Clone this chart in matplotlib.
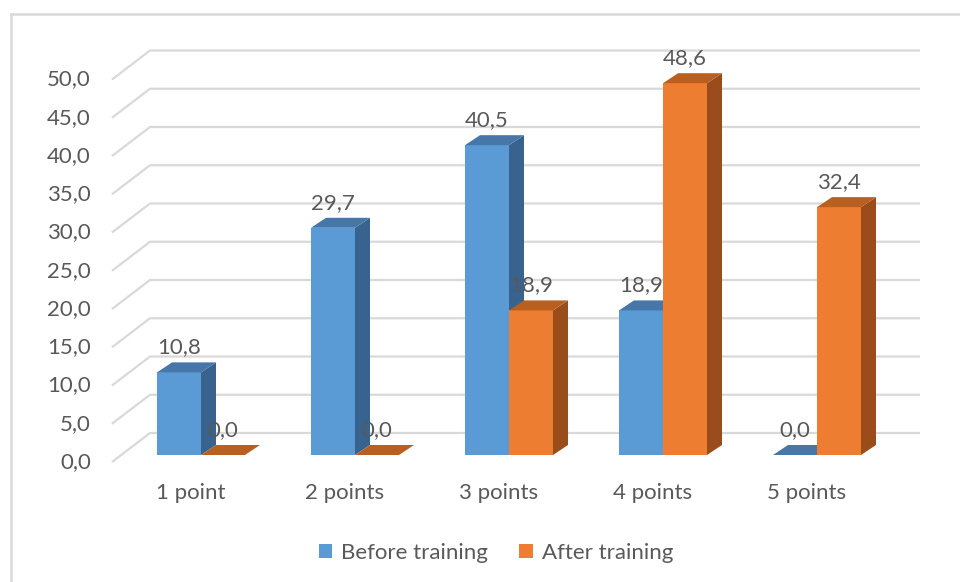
import matplotlib
matplotlib.use("Agg")
import matplotlib.pyplot as plt
from matplotlib.patches import Polygon, Patch

categories = ["1 point", "2 points", "3 points", "4 points", "5 points"]
before = [10.8, 29.7, 40.5, 18.9, 0.0]
after = [0.0, 0.0, 18.9, 48.6, 32.4]
series_names = ["Before training", "After training"]
yticks = [0, 5, 10, 15, 20, 25, 30, 35, 40, 45, 50]

# colours: front, side, top
BLUE = ("#5B9BD5", "#37638E", "#4677A8")
ORANGE = ("#ED7D31", "#9A4C1B", "#B95F20")
TEXT = "#595959"
GRID = "#D9D9D9"
FS = 16

plt.rcParams["font.family"] = ["Lato", "DejaVu Sans"]

# pixel scale of the category / value axes
PX_CAT = 154.0
PX_VAL = 7.65


def px_x(p):
    return p / PX_CAT


def px_y(p):
    return p / PX_VAL


fig = plt.figure(figsize=(9.6, 5.82), dpi=100)
ax = fig.add_axes([0, 0, 1, 1])
ax.set_xlim(-201 / PX_CAT, 759 / PX_CAT)
ax.set_ylim((462 - 582) / PX_VAL, 462 / PX_VAL)
ax.axis("off")

# chart border (only top and left visible)
ax.plot([px_x(11 - 201)] * 2, [px_y(462 - 14), px_y(462 - 600)], color=GRID, lw=1.8,
        clip_on=False)
ax.plot([px_x(11 - 201), px_x(980 - 201)], [px_y(462 - 14)] * 2, color=GRID, lw=1.8,
        clip_on=False)

# gridlines: short diagonal on the side wall, then along the back wall
gx_front, gx_back, gx_end = px_x(112 - 201), px_x(150 - 201), px_x(920 - 201)
g_dy = px_y(29)
for v in yticks:
    ax.plot([gx_front, gx_back, gx_end], [v, v + g_dy, v + g_dy], color=GRID, lw=1.6,
            solid_capstyle="butt", zorder=1)
    ax.text(px_x(91 - 201), v, f"{v:.1f}".replace(".", ","), ha="right", va="center",
            fontsize=FS, color=TEXT)

bar_w = px_x(44)
base = px_y(7)
dx, dy = px_x(15), px_y(10)


def bar3d(x0, h, cols):
    b, t = base, base + h
    front = [(x0, b), (x0 + bar_w, b), (x0 + bar_w, t), (x0, t)]
    side = [(x0 + bar_w, b), (x0 + bar_w + dx, b + dy), (x0 + bar_w + dx, t + dy),
            (x0 + bar_w, t)]
    top = [(x0, t), (x0 + bar_w, t), (x0 + bar_w + dx, t + dy), (x0 + dx, t + dy)]
    if h > 0:
        ax.add_patch(Polygon(front, closed=True, fc=cols[0], ec="none", zorder=3))
        ax.add_patch(Polygon(side, closed=True, fc=cols[1], ec="none", zorder=3))
    ax.add_patch(Polygon(top, closed=True, fc=cols[2], ec="none", zorder=3))
    ax.annotate(f"{h:.1f}".replace(".", ","), (x0 + bar_w / 2, t), xytext=(0, 25),
                textcoords="offset pixels", ha="center", va="center", fontsize=FS,
                color=TEXT, zorder=5)


for i, (b, a) in enumerate(zip(before, after)):
    bar3d(i - bar_w, b, BLUE)
    bar3d(i, a, ORANGE)
    ax.text(i - px_x(10), px_y(462 - 493), categories[i], ha="center", va="center",
            fontsize=FS, color=TEXT)

handles = [Patch(fc=BLUE[0], ec="none"), Patch(fc=ORANGE[0], ec="none")]
fig.legend(handles, series_names, loc="center", bbox_to_anchor=(496 / 960, 1 - 553 / 582),
           ncol=2, frameon=False, fontsize=FS, labelcolor=TEXT, handlelength=0.6,
           handleheight=0.6, handletextpad=0.4, columnspacing=1.4)

fig.savefig("out.png", dpi=100)
